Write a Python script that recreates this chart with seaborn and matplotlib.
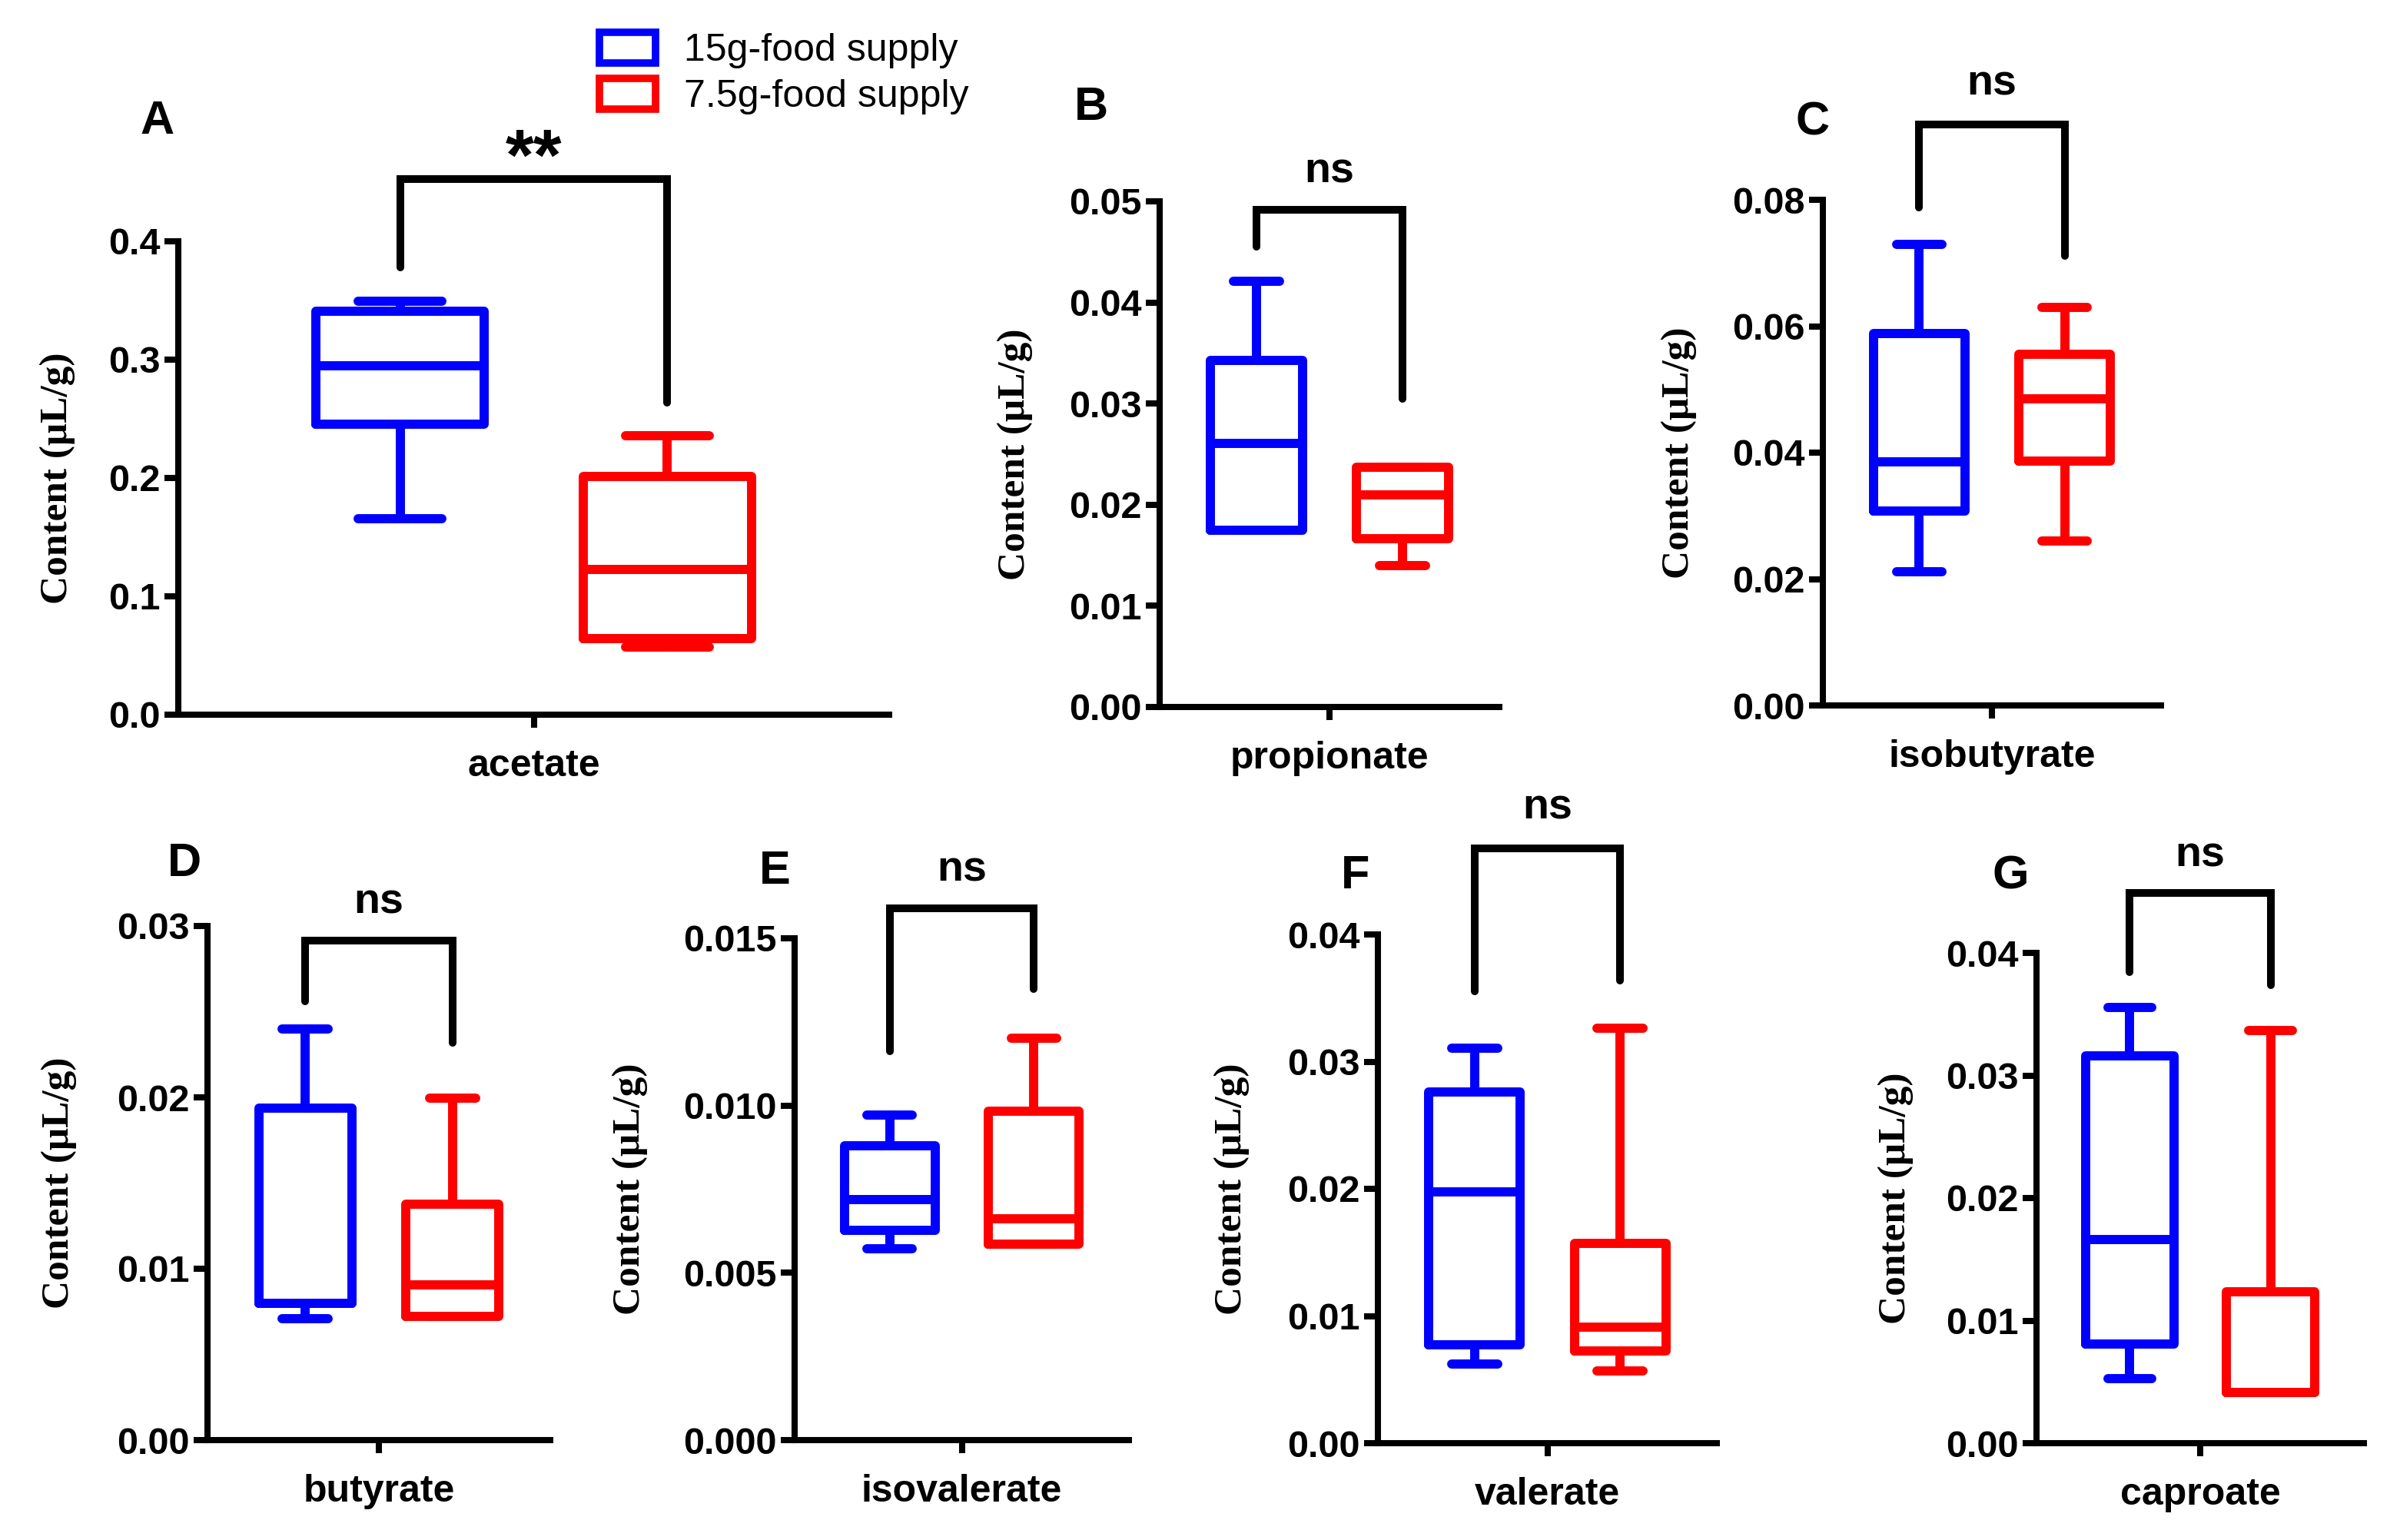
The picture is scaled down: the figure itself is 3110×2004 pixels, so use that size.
import matplotlib
matplotlib.use("Agg")
import matplotlib.pyplot as plt
import seaborn as sns
import pandas as pd
import numpy as np
from matplotlib.patches import Patch
from matplotlib.ticker import FormatStrFormatter, MultipleLocator

# ---------------- data ----------------
acids = ["acetate", "propionate", "isobutyrate", "butyrate", "isovalerate", "valerate", "caproate"]
groups = ["15g-food supply", "7.5g-food supply"]
colors = ["#0000FF", "#FF0000"]
letters = ["A", "B", "C", "D", "E", "F", "G"]
sig = ["**", "ns", "ns", "ns", "ns", "ns", "ns"]

# five-number summaries (min, q1, median, q3, max)
hi_min = [0.1656, 0.01745, 0.0211, 0.00708, 0.00573, 0.00625, 0.00525]
hi_q1  = [0.2455, 0.01745, 0.0307, 0.00800, 0.00627, 0.00773, 0.00810]
hi_med = [0.2950, 0.02610, 0.0386, 0.00800, 0.00719, 0.01974, 0.01659]
hi_q3  = [0.3410, 0.03430, 0.0589, 0.01936, 0.00880, 0.02762, 0.03163]
hi_max = [0.3495, 0.04210, 0.0730, 0.02398, 0.00971, 0.03108, 0.03556]

lo_min = [0.0571, 0.01400, 0.0260, 0.00721, 0.00586, 0.00569, 0.00413]
lo_q1  = [0.0646, 0.01667, 0.0387, 0.00721, 0.00586, 0.00725, 0.00413]
lo_med = [0.1226, 0.02100, 0.0485, 0.00906, 0.00661, 0.00914, 0.00413]
lo_q3  = [0.2012, 0.02373, 0.0556, 0.01378, 0.00983, 0.01572, 0.01234]
lo_max = [0.2356, 0.02373, 0.0630, 0.01996, 0.01202, 0.03264, 0.03364]

y_max = [0.4, 0.05, 0.08, 0.03, 0.015, 0.04, 0.04]
y_step = [0.1, 0.01, 0.02, 0.01, 0.005, 0.01, 0.01]
y_fmt = ["%.1f", "%.2f", "%.2f", "%.2f", "%.3f", "%.2f", "%.2f"]

# bracket annotation layout (fractions of y max)
br_top = [1.131, 0.983, 1.149, 0.971, 1.059, 1.169, 1.1225]
br_left = [0.945, 0.910, 0.985, 0.853, 0.775, 0.888, 0.9615]
br_right = [0.659, 0.609, 0.889, 0.773, 0.899, 0.909, 0.9345]
br_text = [1.17, 1.058, 1.229, 1.046, 1.135, 1.248, 1.198]

rows = []
for i, a in enumerate(acids):
    for v in (hi_min[i], hi_q1[i], hi_med[i], hi_q3[i], hi_max[i]):
        rows.append((a, groups[0], v))
    for v in (lo_min[i], lo_q1[i], lo_med[i], lo_q3[i], lo_max[i]):
        rows.append((a, groups[1], v))
df = pd.DataFrame(rows, columns=["acid", "group", "value"])

# ---------------- layout (pixel boxes) ----------------
W, H = 3110, 2004
ax_px = [  # left, right, bottom, top
    (232, 1157, 930, 314),
    (1509, 1951, 920, 262),
    (2372, 2812, 918, 260),
    (270, 716, 1874, 1205),
    (1034, 1469, 1874, 1221),
    (1793, 2234, 1878, 1216),
    (2650, 3076, 1878, 1240),
]
ylab_x = [75, 1321, 2185, 77, 820, 1603, 2467]
letter_xy = [(205, 158), (1420, 140), (2359, 160), (240, 1124), (1008, 1134), (1764, 1141), (2616, 1141)]
xhalf = [0.532, 0.465, 0.465, 0.465, 0.465, 0.465, 0.465]

sns.set_style("ticks")
plt.rcParams["font.family"] = ["Liberation Sans", "DejaVu Sans"]
plt.rcParams["text.color"] = "black"
plt.rcParams["axes.labelcolor"] = "black"

fig = plt.figure(figsize=(W / 200, H / 200), dpi=200)

for i, a in enumerate(acids):
    l, r, b, t = ax_px[i]
    ax = fig.add_axes([l / W, 1 - b / H, (r - l) / W, (b - t) / H])
    sub = df[df["acid"] == a]
    sns.boxplot(data=sub, x="acid", y="value", hue="group", hue_order=groups,
                palette=colors, fill=False, width=0.8, gap=0.37, whis=(0, 100),
                linewidth=4.3, showfliers=False, legend=False, ax=ax)
    for ln in ax.lines:
        ln.set_solid_capstyle("round")
    ax.set_ylim(0, y_max[i])
    ax.set_xlim(-xhalf[i], xhalf[i])
    ax.yaxis.set_major_locator(MultipleLocator(y_step[i]))
    ax.yaxis.set_major_formatter(FormatStrFormatter(y_fmt[i]))
    for s in ["top", "right"]:
        ax.spines[s].set_visible(False)
    for s in ["left", "bottom"]:
        ax.spines[s].set_linewidth(2.9)
        ax.spines[s].set_color("black")
    ax.tick_params(axis="y", length=6.5, width=2.9, labelsize=17.5, pad=2, colors="black")
    ax.tick_params(axis="x", length=6, width=2.9, labelsize=18, pad=10, colors="black")
    for lab in ax.get_yticklabels() + ax.get_xticklabels():
        lab.set_fontweight("bold")
    ax.set_xlabel("")
    ax.set_ylabel("Content (μL/g)", family=["Liberation Serif", "DejaVu Serif"],
                  fontweight="bold", fontsize=18.5, va="center", color="black")
    ax.yaxis.set_label_coords((ylab_x[i] - l) / (r - l), 0.5)

    # significance bracket
    x0, x1 = -0.2, 0.2
    ym = y_max[i]
    ax.plot([x0, x0, x1, x1], [br_left[i] * ym, br_top[i] * ym, br_top[i] * ym, br_right[i] * ym],
            color="black", lw=3.6, clip_on=False, solid_capstyle="round", solid_joinstyle="miter")
    ax.text(0, br_text[i] * ym, sig[i], ha="center", va="center", color="black",
            fontsize=34 if sig[i] == "**" else 20, fontweight="bold", clip_on=False)

    lx, ly = letter_xy[i]
    fig.text(lx / W, 1 - ly / H, letters[i], ha="center", va="center",
             fontsize=22, fontweight="bold", color="black")

handles = [Patch(facecolor="white", edgecolor=c, linewidth=3.5) for c in colors]
leg = fig.legend(handles, groups, loc="upper left", bbox_to_anchor=(780 / W, 1 - 42 / H),
                 frameon=False, fontsize=18, handlelength=1.45, handleheight=0.85,
                 handletextpad=0.75, labelspacing=0.25, borderpad=0, borderaxespad=0)
for txt in leg.get_texts():
    txt.set_color("black")

fig.savefig("out.png", dpi=200, facecolor="white")
